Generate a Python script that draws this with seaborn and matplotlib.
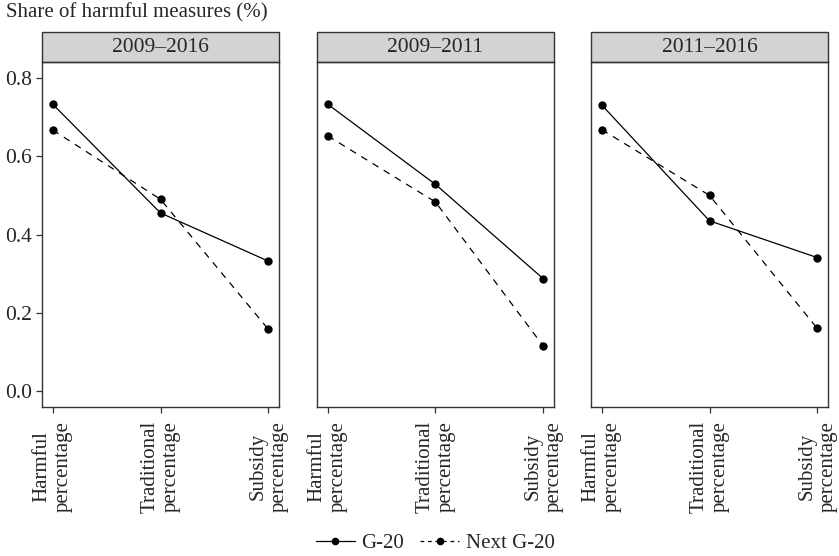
import matplotlib
matplotlib.use("Agg")
import matplotlib.pyplot as plt
import matplotlib.patches as mpatches
from matplotlib.lines import Line2D
import pandas as pd
import seaborn as sns

# data
periods = ["2009\u20132016", "2009\u20132011", "2011\u20132016"]
measures = ["Harmful\npercentage", "Traditional\npercentage", "Subsidy\npercentage"]
g20 = {
    "2009\u20132016": [0.733, 0.455, 0.332],
    "2009\u20132011": [0.733, 0.528, 0.287],
    "2011\u20132016": [0.731, 0.435, 0.341],
}
next_g20 = {
    "2009\u20132016": [0.667, 0.490, 0.158],
    "2009\u20132011": [0.652, 0.483, 0.115],
    "2011\u20132016": [0.668, 0.500, 0.160],
}

rows = []
for p in periods:
    for m, a, b in zip(measures, g20[p], next_g20[p]):
        rows.append({"period": p, "measure": m, "group": "G-20", "share": a})
        rows.append({"period": p, "measure": m, "group": "Next G-20", "share": b})
df = pd.DataFrame(rows)

sns.set_style("white")
plt.rcParams["font.family"] = ["Liberation Serif", "DejaVu Serif"]
plt.rcParams["font.size"] = 15

fig = plt.figure(figsize=(8.39, 5.56), dpi=100)
edge = "#333333"
lefts = [42, 317, 591]
axes = []
for i, p in enumerate(periods):
    ax = fig.add_axes([lefts[i] / 839, 149 / 556, 237 / 839, 345 / 556])
    axes.append(ax)
    sub = df[df["period"] == p]
    sns.lineplot(data=sub, x="measure", y="share", style="group",
                 style_order=["G-20", "Next G-20"],
                 dashes={"G-20": "", "Next G-20": (5.5, 5)},
                 markers={"G-20": "o", "Next G-20": "o"},
                 color="black", linewidth=0.9, markersize=6,
                 markeredgewidth=0, legend=False, sort=False, ax=ax)
    ax.set_xlim(-0.1, 2.1)
    ax.set_ylim(-0.041, 0.841)
    ax.set_xlabel("")
    ax.set_ylabel("")
    ax.set_xticks(range(3))
    ax.set_xticklabels(measures, rotation=90, ha="center", va="top",
                       multialignment="center", fontsize=15)
    for lab in ax.get_xticklabels():
        lab.set_linespacing(1.15)
    ax.set_yticks([0.0, 0.2, 0.4, 0.6, 0.8])
    ax.set_yticklabels(["0.0", "0.2", "0.4", "0.6", "0.8"], fontsize=15.5)
    ax.tick_params(axis="both", direction="out", length=4, width=0.9,
                   color=edge, bottom=True, left=(i == 0), pad=3)
    ax.tick_params(axis="x", pad=6)
    if i > 0:
        ax.set_yticklabels([])
    for s in ax.spines.values():
        s.set_color(edge)
        s.set_linewidth(1.0)
    # facet strip
    strip = mpatches.Rectangle((0, 1), 1, 30 / 345, transform=ax.transAxes,
                               facecolor="#d3d3d3", edgecolor=edge,
                               linewidth=1.0, clip_on=False)
    ax.add_patch(strip)
    ax.text(0.5, 1 + 15 / 345, p, transform=ax.transAxes, ha="center",
            va="center", fontsize=15.5)

fig.text(6 / 839, 1 - 13 / 556, "Share of harmful measures (%)",
         ha="left", va="center", fontsize=15)

handles = [
    Line2D([], [], color="black", linewidth=0.9, marker="o", markersize=5.5,
           markeredgewidth=0),
    Line2D([], [], color="black", linewidth=0.9, linestyle=(0, (3, 3)),
           marker="o", markersize=5.5, markeredgewidth=0),
]
fig.legend(handles, ["G-20", "Next G-20"], loc="center",
           bbox_to_anchor=(435 / 839, 1 - 543 / 556), ncol=2, frameon=False,
           handlelength=1.9, columnspacing=0.75, handletextpad=0.3,
           fontsize=15)

fig.savefig("out.png", dpi=100)
